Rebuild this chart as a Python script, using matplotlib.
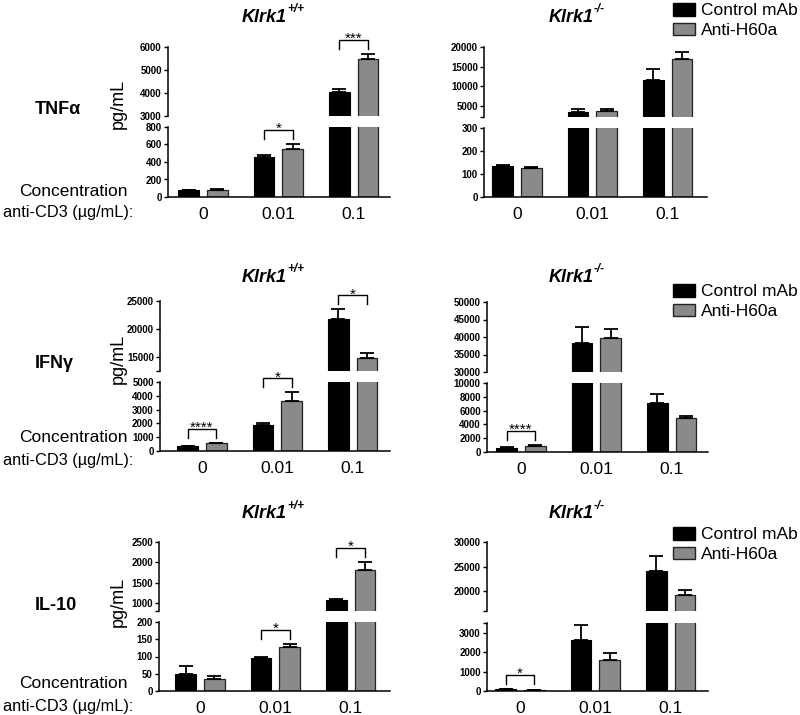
import matplotlib
matplotlib.use("Agg")
import matplotlib.pyplot as plt
from matplotlib.lines import Line2D
from matplotlib.patches import Patch
import numpy as np

plt.rcParams["font.family"] = ["Liberation Sans", "DejaVu Sans"]

# ---- data (pg/mL, mean and upper error) ----
conc_labels = ["0", "0.01", "0.1"]
series_names = ["Control mAb", "Anti-H60a"]
cytokines = ["TNFα", "IFNγ", "IL-10"]
genotypes = ["+/+", "-/-"]

tnf_wt_ctrl = [75, 452, 4045]
tnf_wt_ctrl_err = [8, 30, 110]
tnf_wt_anti = [78, 545, 5480]
tnf_wt_anti_err = [10, 65, 220]

tnf_ko_ctrl = [135, 3550, 11600]
tnf_ko_ctrl_err = [6, 600, 2800]
tnf_ko_anti = [128, 3700, 16950]
tnf_ko_anti_err = [4, 450, 1750]

ifn_wt_ctrl = [350, 1900, 21700]
ifn_wt_ctrl_err = [40, 150, 1800]
ifn_wt_anti = [550, 3600, 14900]
ifn_wt_anti_err = [50, 650, 850]

ifn_ko_ctrl = [600, 38300, 7100]
ifn_ko_ctrl_err = [60, 4500, 1300]
ifn_ko_anti = [900, 39700, 5000]
ifn_ko_anti_err = [80, 2600, 250]

il10_wt_ctrl = [48, 97, 1080]
il10_wt_ctrl_err = [24, 2, 12]
il10_wt_anti = [36, 128, 1820]
il10_wt_anti_err = [7, 9, 190]

il10_ko_ctrl = [100, 2600, 24200]
il10_ko_ctrl_err = [20, 780, 3000]
il10_ko_anti = [60, 1600, 19200]
il10_ko_anti_err = [15, 350, 1000]

# broken y axis: (lower range, lower ticks, upper range, upper ticks)
tnf_wt_axis = ((0, 800), [0, 200, 400, 600, 800], (3000, 6000), [3000, 4000, 5000, 6000])
tnf_ko_axis = ((0, 300), [0, 100, 200, 300], (2200, 20000), [5000, 10000, 15000, 20000])
ifn_wt_axis = ((0, 5000), [0, 1000, 2000, 3000, 4000, 5000], (12500, 25000), [15000, 20000, 25000])
ifn_ko_axis = ((0, 10000), [0, 2000, 4000, 6000, 8000, 10000], (30000, 50000), [30000, 35000, 40000, 45000, 50000])
il10_wt_axis = ((0, 200), [0, 50, 100, 150, 200], (800, 2500), [1000, 1500, 2000, 2500])
il10_ko_axis = ((0, 3500), [0, 1000, 2000, 3000], (16000, 30000), [20000, 25000, 30000])

# significance: (group index, label)
tnf_wt_sig = [(1, "*"), (2, "***")]
tnf_ko_sig = []
ifn_wt_sig = [(0, "****"), (1, "*"), (2, "*")]
ifn_ko_sig = [(0, "****")]
il10_wt_sig = [(1, "*"), (2, "*")]
il10_ko_sig = [(0, "*")]

panels = [
    [(tnf_wt_ctrl, tnf_wt_ctrl_err, tnf_wt_anti, tnf_wt_anti_err, tnf_wt_axis, tnf_wt_sig),
     (tnf_ko_ctrl, tnf_ko_ctrl_err, tnf_ko_anti, tnf_ko_anti_err, tnf_ko_axis, tnf_ko_sig)],
    [(ifn_wt_ctrl, ifn_wt_ctrl_err, ifn_wt_anti, ifn_wt_anti_err, ifn_wt_axis, ifn_wt_sig),
     (ifn_ko_ctrl, ifn_ko_ctrl_err, ifn_ko_anti, ifn_ko_anti_err, ifn_ko_axis, ifn_ko_sig)],
    [(il10_wt_ctrl, il10_wt_ctrl_err, il10_wt_anti, il10_wt_anti_err, il10_wt_axis, il10_wt_sig),
     (il10_ko_ctrl, il10_ko_ctrl_err, il10_ko_anti, il10_ko_anti_err, il10_ko_axis, il10_ko_sig)],
]

# ---- layout (pixels on an 800x715 canvas) ----
W, H = 800, 715
SPACING = 75.3
BAR_W = 20.5 / SPACING
OFF = 14.3 / SPACING
BLACK = "#000000"
GREY = "#8a8a8a"

# spine x, first group centre x, right end x, upper top, upper bottom, lower top, lower bottom
panel_px = [
    [(168, 203, 390, 47, 116, 127, 197), (484, 517, 707, 47, 117, 128, 197)],
    [(160, 202, 390, 301, 371, 382, 451), (487, 521, 708, 302, 372, 383, 452)],
    [(159, 200, 390, 542, 611, 622, 691), (487, 520, 708, 542, 611, 623, 691)],
]
title_x = [242, 549]
title_y = [17, 277, 514]
row_label_y = [110, 363, 605]
unit_y = [104, 359, 602]
conc_y = [(192, 213), (437, 460), (683, 707)]
legend_y = [3, 284, 527]

fig = plt.figure(figsize=(W / 100, H / 100), dpi=100)


def fx(px):
    return px / W


def fy(py):
    return 1 - py / H


def style_y(ax, lim, ticks):
    ax.set_ylim(*lim)
    labels = [str(t) for t in ticks]
    all_ticks = list(ticks)
    for edge in lim:
        if edge not in ticks:
            all_ticks.append(edge)
            labels.append("")
    ax.set_yticks(all_ticks)
    ax.set_yticklabels(labels)
    ax.tick_params(axis="y", length=3, width=1, labelsize=7, pad=1.5)
    for t in ax.get_yticklabels():
        t.set_fontweight("bold")
    ax.spines["left"].set_linewidth(1.1)
    ax.spines["top"].set_visible(False)
    ax.spines["right"].set_visible(False)


def px_to_fig(disp):
    return fig.transFigure.inverted().transform(disp)


for r in range(3):
    for c in range(2):
        ctrl, ctrl_err, anti, anti_err, axis_def, sig = panels[r][c]
        spine, g0, xr, ut, ub, lt, lb = panel_px[r][c]
        lo_lim, lo_ticks, up_lim, up_ticks = axis_def
        xlim = ((spine - g0) / SPACING, (xr - g0) / SPACING)

        ax_up = fig.add_axes([fx(spine), fy(ub), fx(xr - spine), (ub - ut) / H])
        ax_lo = fig.add_axes([fx(spine), fy(lb), fx(xr - spine), (lb - lt) / H])
        x = np.arange(len(conc_labels))
        for ax in (ax_up, ax_lo):
            ax.bar(x - OFF, ctrl, BAR_W, color=BLACK, edgecolor=BLACK, linewidth=0.8)
            ax.bar(x + OFF, anti, BAR_W, color=GREY, edgecolor="#222222", linewidth=0.9)
            ax.errorbar(x - OFF, ctrl, yerr=[np.zeros(3), ctrl_err], fmt="none",
                        ecolor="black", elinewidth=1.3, capsize=5, capthick=1.3)
            ax.errorbar(x + OFF, anti, yerr=[np.zeros(3), anti_err], fmt="none",
                        ecolor="black", elinewidth=1.3, capsize=5, capthick=1.3)
            ax.set_xlim(*xlim)
            ax.patch.set_alpha(0)

        style_y(ax_up, up_lim, up_ticks)
        style_y(ax_lo, lo_lim, lo_ticks)
        ax_up.spines["bottom"].set_visible(False)
        ax_up.set_xticks([])
        ax_lo.spines["bottom"].set_linewidth(1.1)
        ax_lo.set_xticks(x)
        ax_lo.set_xticklabels(conc_labels, fontsize=12.5)
        ax_lo.tick_params(axis="x", length=0, pad=7)

        # significance brackets
        for g, label in sig:
            top = max(ctrl[g] + ctrl_err[g], anti[g] + anti_err[g])
            ax = ax_up if top > up_lim[0] else ax_lo
            d = ax.transData.transform([(g - OFF, top), (g + OFF, top)])
            y_leg = d[0, 1] + 5
            y_top = y_leg + 9
            pts = px_to_fig([(d[0, 0], y_leg), (d[0, 0], y_top), (d[1, 0], y_top), (d[1, 0], y_leg)])
            fig.add_artist(Line2D(pts[:, 0], pts[:, 1], color="black", linewidth=1.0,
                                  transform=fig.transFigure))
            sp = px_to_fig([((d[0, 0] + d[1, 0]) / 2, y_top - 3)])[0]
            fig.text(sp[0], sp[1], label, ha="center", va="baseline", fontsize=11)

        # genotype title
        t = fig.text(fx(title_x[c]), fy(title_y[r]), "Klrk1", ha="left", va="center",
                     fontsize=13, fontweight="bold", fontstyle="italic")
        ax_up.annotate(genotypes[c], xy=(1.0, 0.6), xycoords=t, ha="left", va="bottom",
                       fontsize=8.5, fontweight="bold", fontstyle="italic",
                       annotation_clip=False)

        if c == 1:
            handles = [Patch(facecolor=BLACK, edgecolor=BLACK),
                       Patch(facecolor=GREY, edgecolor="#222222")]
            ax_up.legend(handles, series_names, loc="upper left",
                         bbox_to_anchor=(fx(673), fy(legend_y[r])),
                         bbox_transform=fig.transFigure, frameon=False, fontsize=12.5,
                         handlelength=1.25, handleheight=0.75, handletextpad=0.35,
                         labelspacing=0.25, borderpad=0, borderaxespad=0)
        else:
            fig.text(fx(35), fy(row_label_y[r]), cytokines[r], ha="left", va="center",
                     fontsize=13, fontweight="bold")
            fig.text(fx(118), fy(unit_y[r]), "pg/mL", ha="center", va="center",
                     rotation=90, fontsize=13)
            fig.text(fx(128), fy(conc_y[r][0]), "Concentration", ha="right", va="center",
                     fontsize=12.5)
            fig.text(fx(133), fy(conc_y[r][1]), "anti-CD3 (µg/mL):", ha="right", va="center",
                     fontsize=11.8)

fig.savefig("out.png", dpi=100)
